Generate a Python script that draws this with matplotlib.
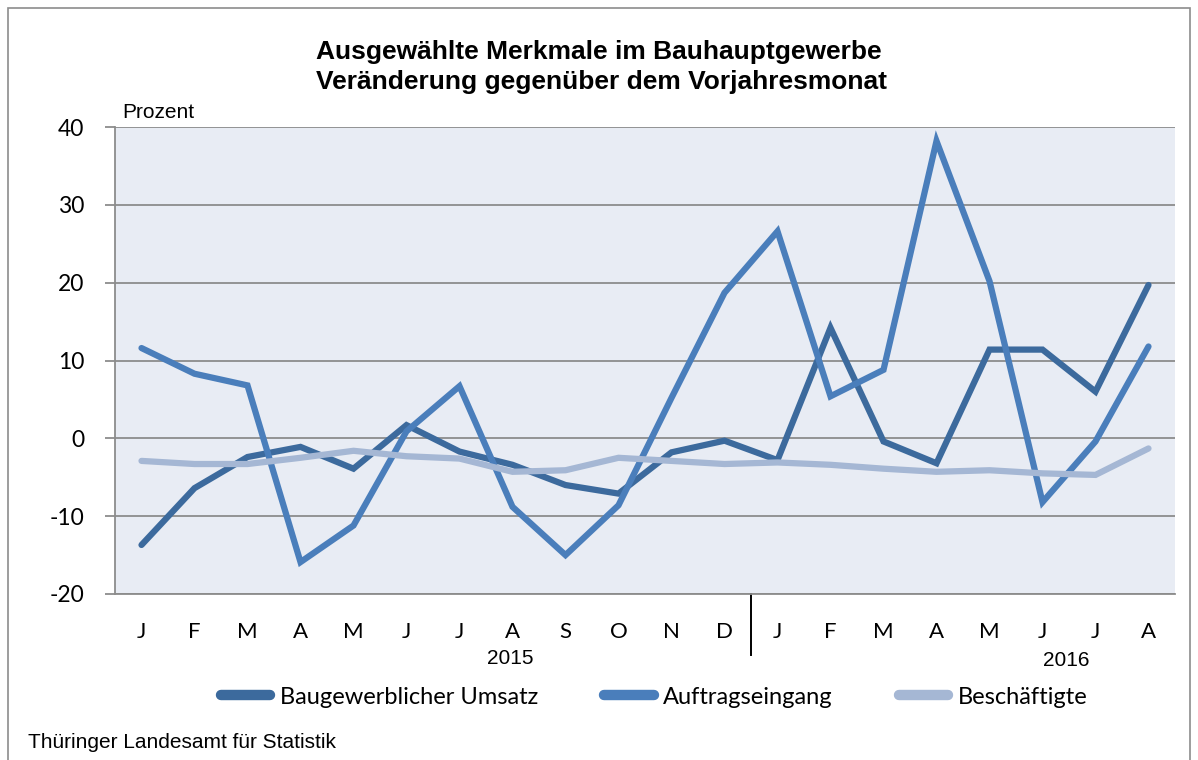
import matplotlib
matplotlib.use("Agg")
import matplotlib.pyplot as plt
from matplotlib.patches import Rectangle
from matplotlib.lines import Line2D
import matplotlib.transforms as mtransforms

months = ["J", "F", "M", "A", "M", "J", "J", "A", "S", "O", "N", "D",
          "J", "F", "M", "A", "M", "J", "J", "A"]
umsatz = [-13.7, -6.4, -2.4, -1.1, -3.9, 1.7, -1.7, -3.4, -6.0, -7.1, -1.8, -0.3,
          -2.8, 14.2, -0.4, -3.2, 11.4, 11.4, 6.0, 19.7]
auftrag = [11.6, 8.3, 6.8, -15.9, -11.2, 0.9, 6.7, -8.8, -15.0, -8.6, 5.2, 18.7,
           26.6, 5.4, 8.8, 38.2, 20.2, -8.2, -0.4, 11.8]
beschaeftigte = [-2.9, -3.3, -3.3, -2.5, -1.6, -2.3, -2.6, -4.3, -4.1, -2.5, -2.9, -3.3,
                 -3.1, -3.4, -3.9, -4.3, -4.1, -4.5, -4.7, -1.3]
series_names = ["Baugewerblicher Umsatz", "Auftragseingang", "Beschäftigte"]
colors = ["#3C6A9D", "#4A7EBB", "#A5B7D4"]
yticks = [-20, -10, 0, 10, 20, 30, 40]
years = ["2015", "2016"]

plt.rcParams['font.family'] = ['Liberation Sans', 'DejaVu Sans']
calibri_like = ['Lato', 'DejaVu Sans']

fig = plt.figure(figsize=(11.98, 7.6), dpi=100)
fig.patches.append(Rectangle((8/1198, -0.01), (1190-8)/1198, 1 - 8/760 + 0.01,
                             transform=fig.transFigure, fill=False,
                             edgecolor="#8C8C8C", linewidth=1.2))

ax = fig.add_axes([115/1198, 1 - 594/760, (1175-115)/1198, (594-127)/760])
ax.set_facecolor("#E8ECF4")
x = list(range(len(months)))
lw = 4.5
for data, c, name in zip([umsatz, auftrag, beschaeftigte], colors, series_names):
    ax.plot(x, data, color=c, lw=lw, solid_capstyle="round", solid_joinstyle="miter",
            label=name)

ax.set_xlim(-0.5, len(months) - 0.5)
ax.set_ylim(-20, 40)
ax.set_yticks(yticks)
ax.set_yticklabels([str(v) for v in yticks], fontsize=16.5, family=calibri_like)
ax.yaxis.grid(True, color="#8C8C8C", lw=1.3)
ax.set_axisbelow(True)
for s in ["top", "right"]:
    ax.spines[s].set_visible(False)
ax.spines["left"].set_color("#8C8C8C")
ax.spines["left"].set_linewidth(1.3)
ax.spines["bottom"].set_color("#8C8C8C")
ax.spines["bottom"].set_linewidth(1.3)
ax.tick_params(axis="y", length=7, width=1.3, color="#8C8C8C", pad=15)
ax.set_xticks(x)
ax.set_xticklabels(months, fontsize=16, family=calibri_like)
ax.tick_params(axis="x", length=0, pad=20)

trans = mtransforms.blended_transform_factory(ax.transData, ax.transAxes)
ax.add_line(Line2D([11.5, 11.5], [0, -61/467], transform=trans, color="black",
                   lw=1.4, clip_on=False))
ax.text(6.95, -(658-594)/467, years[0], transform=trans, ha="center", va="center",
        fontsize=15)
ax.text(17.45, -(661-594)/467, years[1], transform=trans, ha="center", va="center",
        fontsize=15)

fig.text(599/1198, 1 - 52/760, "Ausgewählte Merkmale im Bauhauptgewerbe",
         ha="center", va="center", fontsize=19, fontweight="bold")
fig.text(601/1198, 1 - 82/760, "Veränderung gegenüber dem Vorjahresmonat",
         ha="center", va="center", fontsize=19, fontweight="bold")
fig.text(122/1198, 1 - 113/760, "Prozent", ha="left", va="center", fontsize=15)
fig.text(28/1198, 1 - 742/760, "Thüringer Landesamt für Statistik", ha="left",
         va="center", fontsize=15)

handles = [Line2D([0], [0], color=c, lw=7.5, solid_capstyle="round") for c in colors]
fig.legend(handles, series_names, loc="center", bbox_to_anchor=(654/1198, 1 - 697/760),
           ncol=3, frameon=False, prop={'family': calibri_like, 'size': 17},
           handlelength=2.1, columnspacing=2.8, handletextpad=0.4)

fig.savefig("out.png", dpi=100)
